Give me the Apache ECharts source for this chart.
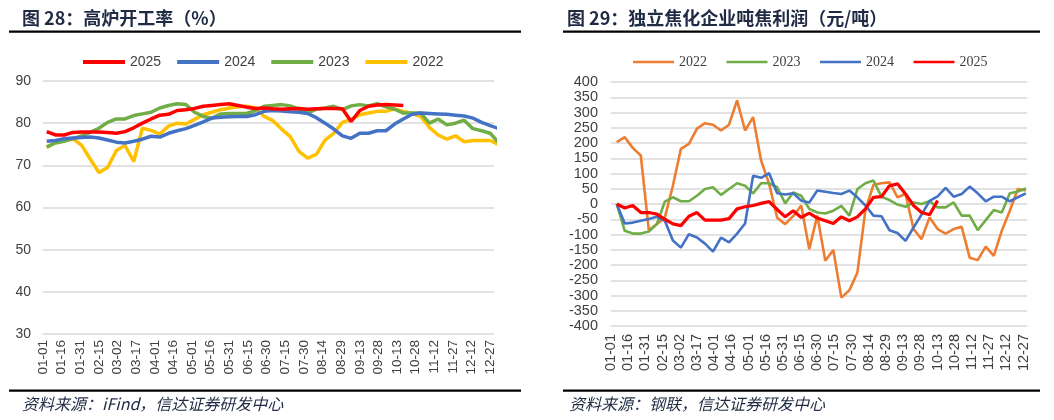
<!DOCTYPE html>
<html><head><meta charset="utf-8">
<script src="https://cdn.jsdelivr.net/npm/echarts@6/dist/echarts.min.js"></script>
<style>html,body{margin:0;padding:0;background:#fff}#c{width:1054px;height:420px}</style>
</head><body><div id="c"></div>
<script>
// ---------- shared ----------
const TICK_LABELS = ['01-01','01-16','01-31','02-15','03-02','03-17','04-01','04-16','05-01','05-16','05-31','06-15','06-30','07-15','07-30','08-14','08-29','09-13','09-28','10-13','10-28','11-12','11-27','12-12','12-27'];

// ---------- left chart: 高炉开工率 (%) ----------
const DAYS_L = [3,10,17,24,31,38,45,52,59,66,73,80,87,94,101,108,115,122,129,136,143,150,157,164,171,178,185,192,199,206,213,220,227,234,241,248,255,262,269,276,283,290,297,304,311,318,325,332,339,346,353,360,367];
const BF_2025 = [78.0,77.2,77.2,77.8,77.9,77.9,77.9,77.8,77.6,78.0,78.9,80.0,81.0,81.9,82.1,83.0,83.2,83.5,84.0,84.2,84.4,84.6,84.2,83.8,83.5,83.6,83.4,83.3,83.4,83.5,83.3,83.4,83.5,83.5,83.4,80.4,83.0,84.0,84.3,84.4,84.3,84.2];
const BF_2024 = [75.7,75.9,76.3,76.5,76.6,76.7,76.5,76.0,75.5,75.3,75.7,76.2,76.9,76.7,77.6,78.2,78.7,79.5,80.3,81.2,81.4,81.5,81.6,81.6,82.0,82.8,83.0,82.9,82.7,82.6,82.3,81.3,80.0,78.6,77.0,76.4,77.6,77.6,78.2,78.2,79.8,81.0,82.1,82.4,82.3,82.2,82.1,81.9,81.7,81.2,80.2,79.4,78.7];
const BF_2023 = [74.4,75.3,75.7,76.3,77.0,77.8,78.8,80.2,81.0,81.0,81.8,82.2,82.6,83.6,84.2,84.6,84.4,82.6,81.6,81.2,82.2,82.3,82.3,82.3,83.0,84.0,84.2,84.4,84.1,83.4,82.4,83.3,83.6,84.0,83.2,84.1,84.4,84.1,84.6,83.9,83.3,82.4,82.4,82.4,80.0,81.0,79.6,80.0,80.7,78.7,78.2,77.6,75.3];
const BF_2022 = [74.2,75.5,76.2,76.3,74.8,71.5,68.3,69.5,73.5,74.7,70.9,78.8,78.3,77.4,79.3,80.0,79.8,80.9,82.0,82.6,83.2,83.6,83.9,84.0,83.6,81.6,80.6,78.6,76.8,73.3,71.7,72.6,76.0,77.6,80.2,80.9,82.0,82.4,82.8,82.8,83.4,82.8,82.3,81.6,79.0,77.2,76.2,77.0,75.6,75.9,75.9,75.9,74.9];

// ---------- right chart: 独立焦化企业吨焦利润 (元/吨) ----------
const DAYS_R = [5,12,19,26,33,40,47,54,61,68,75,82,89,96,103,110,117,124,131,138,145,152,159,166,173,180,187,194,201,208,215,222,229,236,243,250,257,264,271,278,285,292,299,306,313,320,327,334,341,348,355,362];
const CK_2022 = [203,219,184,159,-86,-66,-44,60,181,197,247,265,260,241,260,340,241,285,142,66,-45,-66,-40,-5,-148,-38,-186,-151,-307,-283,-225,-20,63,68,71,22,33,-82,-115,-44,-82,-97,-82,-75,-176,-184,-140,-170,-88,-22,49,44];
const CK_2023 = [0,-88,-97,-97,-90,-66,8,22,9,9,27,49,55,30,49,68,60,35,68,68,55,2,38,27,-16,-28,-31,-22,-6,-38,49,68,77,24,13,-2,-9,5,0,9,-11,-11,5,-38,-38,-86,-53,-20,-28,35,41,51];
const CK_2024 = [0,-64,-61,-55,-49,-42,-55,-120,-143,-99,-110,-130,-156,-110,-126,-97,-64,93,86,101,35,31,35,11,5,44,40,36,33,44,22,-5,-38,-40,-86,-95,-121,-77,-35,10,25,53,24,33,57,35,9,24,24,9,22,35];
const CK_2025 = [0,-13,-5,-28,-28,-33,-50,-65,-71,-40,-28,-53,-53,-53,-48,-16,-9,-5,2,8,-18,-42,-22,-44,-30,-46,-55,-64,-42,-55,-42,-16,22,24,60,66,33,-5,-28,-35,11];

const pair = (days, vals) => vals.map((v, i) => [days[i], v]);
const dayLabel = v => (v % 15 === 0 && TICK_LABELS[v / 15] !== undefined) ? TICK_LABELS[v / 15] : '';

const chart = echarts.init(document.getElementById('c'), null, {renderer: 'canvas'});
const CJK = '"Noto Sans CJK SC", sans-serif';
const gridColor = '#d9d9d9';

function xAxis(gi, fs, margin) {
  return {type: 'value', gridIndex: gi, min: 0, max: 363, interval: 15,
    axisLine: {show: false}, axisTick: {show: false}, splitLine: {show: false},
    axisLabel: {rotate: 90, fontSize: fs, color: '#404040', fontFamily: 'Liberation Sans, Arial', margin: margin, formatter: dayLabel, showMaxLabel: false}};
}

function txt(x, y, text, font) {
  return {type: 'text', x: x, y: y, style: {text: text, font: font, fill: '#1f2a44', textAlign: 'left', textVerticalAlign: 'middle'}};
}

const option = {
  animation: false,
  backgroundColor: '#fff',
  grid: [
    {left: 43, top: 81, width: 451, height: 253},
    {left: 611, top: 82, width: 416, height: 244}
  ],
  xAxis: [xAxis(0, 13.5, 6), xAxis(1, 14.5, 8)],
  yAxis: [
    {type: 'value', gridIndex: 0, min: 30, max: 90, interval: 10,
      axisLine: {show: false}, axisTick: {show: false},
      splitLine: {lineStyle: {color: gridColor, width: 1.5}},
      axisLabel: {fontSize: 14, color: '#404040', fontFamily: 'Liberation Sans, Arial', margin: 12}},
    {type: 'value', gridIndex: 1, min: -400, max: 400, interval: 50,
      axisLine: {show: false}, axisTick: {show: false},
      splitLine: {lineStyle: {color: gridColor, width: 1.5}},
      axisLabel: {fontSize: 14.5, color: '#404040', fontFamily: 'Liberation Sans, Arial', margin: 13}}
  ],
  legend: [
    {data: ['2025', '2024', '2023', '2022'].map(n => ({name: n})), left: 78, top: 50,
      icon: 'rect', itemWidth: 42, itemHeight: 4, itemGap: 16,
      textStyle: {fontSize: 14, color: '#404040', fontFamily: 'Liberation Sans, Arial'}},
    {data: ['2022 ', '2023 ', '2024 ', '2025 '].map(n => ({name: n})), left: 628, top: 50,
      icon: 'rect', itemWidth: 41, itemHeight: 2.5, itemGap: 16,
      textStyle: {fontSize: 14, color: '#404040', fontFamily: 'Liberation Serif, Times New Roman, serif'}}
  ],
  graphic: [
    txt(22, 18, '图 28：高炉开工率（%）', 'bold 18px ' + CJK),
    txt(567, 18, '图 29：独立焦化企业吨焦利润（元/吨）', 'bold 18px ' + CJK),
    {type: 'rect', shape: {x: 9, y: 30.5, width: 512, height: 2.2}, style: {fill: '#000'}},
    {type: 'rect', shape: {x: 563, y: 30.5, width: 477, height: 2.2}, style: {fill: '#000'}},
    {type: 'rect', shape: {x: 9, y: 389.5, width: 512, height: 2.2}, style: {fill: '#000'}},
    {type: 'rect', shape: {x: 563, y: 389.5, width: 477, height: 2.2}, style: {fill: '#000'}},
    txt(22, 404, '资料来源：iFind，信达证券研发中心', 'italic 16px ' + CJK),
    txt(569, 404, '资料来源：钢联，信达证券研发中心', 'italic 16px ' + CJK)
  ],
  series: [
    {name: '2025', type: 'line', xAxisIndex: 0, yAxisIndex: 0, data: pair(DAYS_L, BF_2025), color: '#ff0000', z: 5, w: 3.5},
    {name: '2024', type: 'line', xAxisIndex: 0, yAxisIndex: 0, data: pair(DAYS_L, BF_2024), color: '#4472c4', z: 4, w: 3.5},
    {name: '2023', type: 'line', xAxisIndex: 0, yAxisIndex: 0, data: pair(DAYS_L, BF_2023), color: '#70ad47', z: 3, w: 3.5},
    {name: '2022', type: 'line', xAxisIndex: 0, yAxisIndex: 0, data: pair(DAYS_L, BF_2022), color: '#ffc000', z: 2, w: 3.5},
    {name: '2022 ', type: 'line', xAxisIndex: 1, yAxisIndex: 1, data: pair(DAYS_R, CK_2022), color: '#ed7d31', z: 2, w: 2.6},
    {name: '2023 ', type: 'line', xAxisIndex: 1, yAxisIndex: 1, data: pair(DAYS_R, CK_2023), color: '#70ad47', z: 3, w: 2.6},
    {name: '2024 ', type: 'line', xAxisIndex: 1, yAxisIndex: 1, data: pair(DAYS_R, CK_2024), color: '#4472c4', z: 4, w: 2.6},
    {name: '2025 ', type: 'line', xAxisIndex: 1, yAxisIndex: 1, data: pair(DAYS_R, CK_2025), color: '#ff0000', z: 5, w: 3.2}
  ].map(s => { const w = s.w; delete s.w; return Object.assign(s, {symbol: 'none', clip: false,
    lineStyle: {width: w, color: s.color}, itemStyle: {color: s.color}}); })
};
chart.setOption(option);
</script></body></html>
